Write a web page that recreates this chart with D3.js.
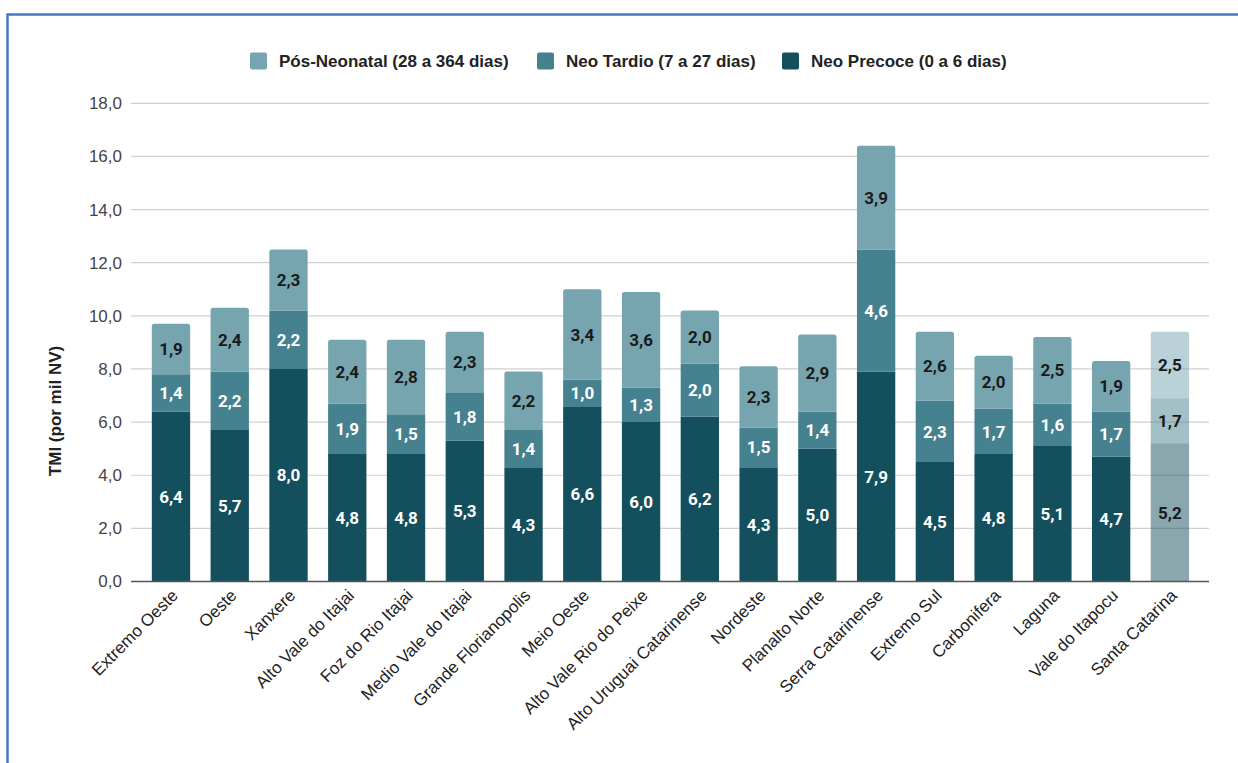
<!DOCTYPE html>
<html><head><meta charset="utf-8">
<script src="https://cdn.jsdelivr.net/npm/d3@7"></script>
<style>
html,body{margin:0;padding:0;background:#fff;}
svg{display:block;}
</style></head>
<body>
<svg id="chart" width="1238" height="763"></svg>
<script>
const categories = ["Extremo Oeste","Oeste","Xanxere","Alto Vale do Itajai","Foz do Rio Itajai","Medio Vale do Itajai","Grande Florianopolis","Meio Oeste","Alto Vale Rio do Peixe","Alto Uruguai Catarinense","Nordeste","Planalto Norte","Serra Catarinense","Extremo Sul","Carbonifera","Laguna","Vale do Itapocu","Santa Catarina"];
const neoPrecoce = [6.4,5.7,8.0,4.8,4.8,5.3,4.3,6.6,6.0,6.2,4.3,5.0,7.9,4.5,4.8,5.1,4.7,5.2];
const neoTardio = [1.4,2.2,2.2,1.9,1.5,1.8,1.4,1.0,1.3,2.0,1.5,1.4,4.6,2.3,1.7,1.6,1.7,1.7];
const posNeonatal = [1.9,2.4,2.3,2.4,2.8,2.3,2.2,3.4,3.6,2.0,2.3,2.9,3.9,2.6,2.0,2.5,1.9,2.5];
const seriesNames = ["Pós-Neonatal (28 a 364 dias)","Neo Tardio (7 a 27 dias)","Neo Precoce (0 a 6 dias)"];
const yTicks = [0,2,4,6,8,10,12,14,16,18];
const yTitle = "TMI (por mil NV)";
const highlighted = "Santa Catarina";

const colors = {"Neo Precoce (0 a 6 dias)":"#134f5c","Neo Tardio (7 a 27 dias)":"#45818e","Pós-Neonatal (28 a 364 dias)":"#76a5af"};
const svg = d3.select("#chart");
const FONT = "Liberation Sans, Arial, sans-serif";

// border
svg.append("rect").attr("x",7.5).attr("y",14.5).attr("width",1300).attr("height",900)
  .attr("fill","none").attr("stroke","#4a76c6").attr("stroke-width",2.5);

const plotL = 131, plotR = 1209;
const y = d3.scaleLinear().domain([0,18]).range([581.5,103.3]);
const x = d3.scaleBand().domain(categories).range([141.6,1199.3]).paddingInner(0.348).paddingOuter(0.174);

// gridlines
svg.append("g").selectAll("line").data(yTicks.filter(t=>t>0)).join("line")
  .attr("x1",plotL).attr("x2",plotR).attr("y1",d=>y(d)).attr("y2",d=>y(d))
  .attr("stroke","#d0d0d0").attr("stroke-width",1.2);

// y tick labels
const fmt = d=> d3.format(".1f")(d).replace(".",",");
svg.append("g").selectAll("text").data(yTicks).join("text")
  .attr("x",122).attr("y",d=>y(d)).attr("dy","0.35em").attr("text-anchor","end")
  .attr("font-family",FONT).attr("font-size",17).attr("fill","#444")
  .text(fmt);

// y title
svg.append("text").attr("transform",`translate(61,411) rotate(-90)`)
  .attr("text-anchor","middle").attr("font-family",FONT)
  .attr("font-weight","bold").attr("font-size",17).attr("fill","#222").text(yTitle);

// stack
const rows = categories.map((c,i)=>({cat:c,
  "Neo Precoce (0 a 6 dias)":neoPrecoce[i],
  "Neo Tardio (7 a 27 dias)":neoTardio[i],
  "Pós-Neonatal (28 a 364 dias)":posNeonatal[i]}));
const keys = ["Neo Precoce (0 a 6 dias)","Neo Tardio (7 a 27 dias)","Pós-Neonatal (28 a 364 dias)"];
const stacked = d3.stack().keys(keys)(rows);

function topRounded(x0,y0,w,h,r){
  return `M${x0},${y0+h}V${y0+r}Q${x0},${y0} ${x0+r},${y0}H${x0+w-r}Q${x0+w},${y0} ${x0+w},${y0+r}V${y0+h}Z`;
}
const barsG = svg.append("g");
stacked.forEach((s,si)=>{
  const isTop = si===keys.length-1;
  barsG.append("g").selectAll("path").data(s).join("path")
    .attr("d",d=>{
      const x0=x(d.data.cat), w=x.bandwidth(), y0=y(d[1]), h=y(d[0])-y(d[1]);
      return isTop ? topRounded(x0,y0,w,h,2.5) : `M${x0},${y0}h${w}v${h}h${-w}Z`;
    })
    .attr("fill",colors[s.key])
    .attr("opacity",d=>d.data.cat===highlighted?0.5:1);
});

// labels
stacked.forEach((s,si)=>{
  barsG.append("g").selectAll("text").data(s).join("text")
    .attr("x",d=>x(d.data.cat)+x.bandwidth()/2)
    .attr("y",d=>(y(d[0])+y(d[1]))/2).attr("dy","0.36em")
    .attr("text-anchor","middle").attr("font-family","Roboto, sans-serif").attr("font-weight","bold")
    .attr("font-size",17)
    .attr("fill",d=> (d.data.cat===highlighted || si===2) ? "#1a1a1a" : "#ffffff")
    .text(d=>fmt(d[1]-d[0]));
});

// baseline
svg.append("line").attr("x1",plotL).attr("x2",plotR).attr("y1",y(0)).attr("y2",y(0))
  .attr("stroke","#555").attr("stroke-width",1.6);

// x labels
svg.append("g").selectAll("text").data(categories).join("text")
  .attr("transform",d=>`translate(${x(d)+x.bandwidth()/2+8},${y(0)+15}) rotate(-45)`)
  .attr("text-anchor","end").attr("font-family",FONT)
  .attr("font-size",17).attr("fill","#222").text(d=>d);

// legend
const legX = [250,537,782];
const leg = svg.append("g");
seriesNames.forEach((n,i)=>{
  leg.append("rect").attr("x",legX[i]).attr("y",52.5).attr("width",17).attr("height",17).attr("rx",2)
    .attr("fill",colors[n]);
  leg.append("text").attr("x",legX[i]+29).attr("y",61).attr("dy","0.35em")
    .attr("font-family",FONT).attr("font-weight","bold")
    .attr("font-size",17).attr("fill","#222").text(n);
});
</script>
</body></html>
